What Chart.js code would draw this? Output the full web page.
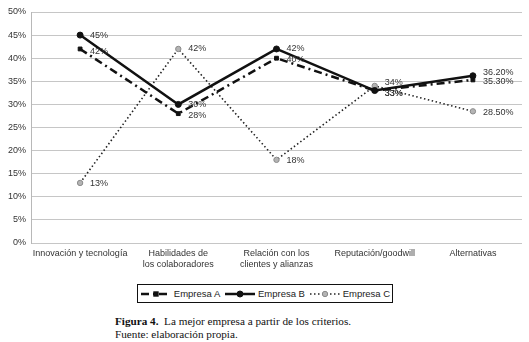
<!DOCTYPE html>
<html lang="es">
<head>
  <meta charset="UTF-8" />
  <title>La mejor empresa a partir de los criterios</title>
  <script src="https://cdn.jsdelivr.net/npm/chart.js"></script>
  <style>
    body { margin: 0; background: #fff; width: 529px; height: 342px; overflow: hidden; font-family: 'Liberation Sans', Arial, sans-serif; }
    .chart-box { position: absolute; left: 0; top: 0; width: 529px; height: 275px; }
    .legend { position: absolute; left: 137px; top: 284px; width: 254px; height: 17px; border: 1px solid #111;
              display: flex; align-items: center; justify-content: space-around; font-size: 9.5px; color: #222; }
    .legend .item { display: flex; align-items: center; }
    .legend canvas { margin-right: 2px; }
    .caption { position: absolute; left: 115px; top: 315px; font-family: 'Liberation Serif', 'DejaVu Serif', serif;
               font-size: 11.2px; line-height: 13px; color: #111; }
  </style>
</head>
<body>
  <div class="chart-box"><canvas id="chart" width="529" height="275"></canvas></div>
  <div class="legend" id="legend"></div>
  <div class="caption"><b>Figura 4.</b>&nbsp; La mejor empresa a partir de los criterios.<br>Fuente: elaboración propia.</div>

  <script>
    const categories = [
      'Innovación y tecnología',
      ['Habilidades de', 'los colaboradores'],
      ['Relación con los', 'clientes y alianzas'],
      'Reputación/goodwill',
      'Alternativas'
    ];
    const empresaA = [42, 28, 40, 33, 35.3];
    const empresaB = [45, 30, 42, 33, 36.2];
    const empresaC = [13, 42, 18, 34, 28.5];
    const labelsA = ['42%', '28%', '40%', '33%', '35.30%'];
    const labelsB = ['45%', '30%', '42%', '33%', '36.20%'];
    const labelsC = ['13%', '42%', '18%', '34%', '28.50%'];
    const yTicks = [0, 5, 10, 15, 20, 25, 30, 35, 40, 45, 50];
    // small vertical nudges so close labels don't sit on top of each other
    const nudgeA = [3, 2, 1, 3, 2];
    const nudgeB = [0, 0, 0, 3, -3];
    const nudgeC = [1, 0, 1, -3, 1];

    const styles = [
      { name: 'Empresa A', data: empresaA, text: labelsA, nudge: nudgeA, color: '#111', width: 2.5, dash: [8, 4, 2, 4], point: 'rect', radius: 2.7, fill: '#111', stroke: '#111' },
      { name: 'Empresa B', data: empresaB, text: labelsB, nudge: nudgeB, color: '#111', width: 2.5, dash: [], point: 'circle', radius: 3, fill: '#111', stroke: '#111' },
      { name: 'Empresa C', data: empresaC, text: labelsC, nudge: nudgeC, color: '#222', width: 1.6, dash: [1.5, 2.5], point: 'circle', radius: 2.7, fill: '#b4b4b4', stroke: '#8a8a8a' }
    ];

    // point value labels, drawn to the right of each point
    const valueLabels = {
      id: 'valueLabels',
      afterDatasetsDraw(chart) {
        const ctx = chart.ctx;
        ctx.save();
        ctx.font = '9px "Liberation Sans", Arial, sans-serif';
        ctx.fillStyle = '#333';
        ctx.textBaseline = 'middle';
        ctx.textAlign = 'left';
        chart.data.datasets.forEach((ds, i) => {
          chart.getDatasetMeta(i).data.forEach((pt, j) => {
            ctx.fillText(ds.valueText[j], pt.x + 10, pt.y + ds.nudge[j]);
          });
        });
        ctx.restore();
      }
    };

    new Chart(document.getElementById('chart'), {
      type: 'line',
      data: {
        labels: categories,
        datasets: styles.map(s => ({
          label: s.name,
          data: s.data,
          valueText: s.text,
          nudge: s.nudge,
          borderColor: s.color,
          borderWidth: s.width,
          borderDash: s.dash,
          pointStyle: s.point,
          pointRadius: s.radius,
          pointBackgroundColor: s.fill,
          pointBorderColor: s.stroke,
          pointBorderWidth: 1,
          tension: 0,
          fill: false
        }))
      },
      options: {
        responsive: false,
        animation: false,
        layout: { padding: { top: 12, right: 7, left: 0, bottom: 0 } },
        plugins: { legend: { display: false }, tooltip: { enabled: false } },
        scales: {
          x: {
            offset: true,
            grid: { display: false, drawTicks: false, tickLength: 0 },
            border: { display: false },
            ticks: { color: '#333', font: { size: 9, family: '"Liberation Sans", Arial, sans-serif' }, padding: 5, maxRotation: 0, autoSkip: false },
            afterFit: s => { s.height = 32; }
          },
          y: {
            min: 0, max: 50,
            afterBuildTicks: s => { s.ticks = yTicks.map(v => ({ value: v })); },
            grid: { color: '#c6c6c6', lineWidth: 1, drawTicks: false },
            border: { display: true, color: '#b8b8b8' },
            ticks: { color: '#333', font: { size: 9, family: '"Liberation Sans", Arial, sans-serif' }, padding: 5, callback: v => v + '%' },
            afterFit: s => { s.width = 31; }
          }
        }
      },
      plugins: [valueLabels]
    });

    // legend with small line samples
    const legend = document.getElementById('legend');
    styles.forEach(s => {
      const item = document.createElement('div');
      item.className = 'item';
      const c = document.createElement('canvas');
      c.width = 32; c.height = 10;
      const g = c.getContext('2d');
      g.strokeStyle = s.color; g.lineWidth = s.width; g.setLineDash(s.dash);
      g.beginPath(); g.moveTo(1, 5); g.lineTo(31, 5); g.stroke();
      g.setLineDash([]);
      g.fillStyle = s.fill; g.strokeStyle = s.stroke; g.lineWidth = 1;
      if (s.point === 'rect') {
        g.fillRect(16 - s.radius, 5 - s.radius, s.radius * 2, s.radius * 2);
      } else {
        g.beginPath(); g.arc(16, 5, s.radius, 0, Math.PI * 2); g.fill(); g.stroke();
      }
      const t = document.createElement('span');
      t.textContent = s.name;
      item.appendChild(c); item.appendChild(t);
      legend.appendChild(item);
    });
  </script>
</body>
</html>
